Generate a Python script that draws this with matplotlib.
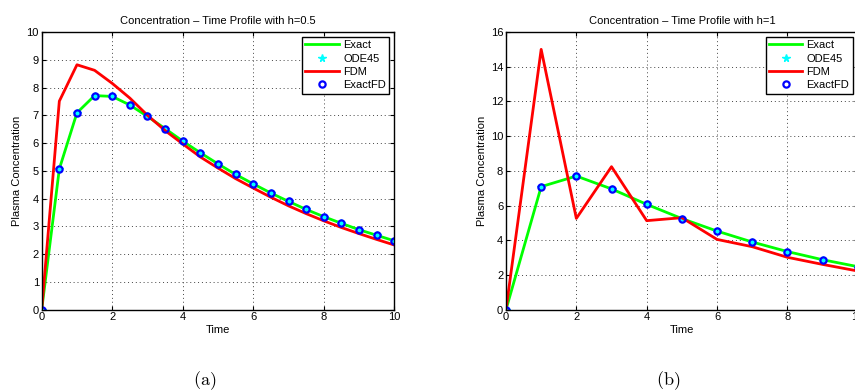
import matplotlib
matplotlib.use("Agg")
import matplotlib.pyplot as plt
import numpy as np

plt.rcParams['font.family'] = ['Liberation Sans', 'DejaVu Sans']
plt.rcParams['mathtext.fontset'] = 'cm'

# h = 0.5
t_a = np.arange(0, 10.01, 0.5)
exact_a = [0, 5.07, 7.09, 7.71, 7.68, 7.37, 6.96, 6.52, 6.07, 5.65, 5.25,
           4.87, 4.53, 4.20, 3.90, 3.61, 3.35, 3.11, 2.88, 2.68, 2.48]
fdm_a = [0, 7.51, 8.82, 8.62, 8.15, 7.62, 7.0, 6.45, 5.97, 5.5, 5.1,
         4.72, 4.38, 4.05, 3.74, 3.46, 3.2, 2.96, 2.74, 2.53, 2.33]

# h = 1
t_b = np.arange(0, 10.01, 1.0)
exact_b = [0, 7.09, 7.70, 6.96, 6.07, 5.25, 4.53, 3.90, 3.35, 2.88, 2.48]
fdm_b = [0, 15.0, 5.26, 8.24, 5.13, 5.30, 4.05, 3.63, 3.02, 2.61, 2.23]

W, H = 855, 392
fig = plt.figure(figsize=(W / 100, H / 100), dpi=100)


def panel(rect, t, exact, fdm, h, ymax, ystep):
    ax = fig.add_axes(rect)
    ax.plot(t, exact, color='#00ff00', lw=2, label='Exact')
    ax.plot(t, exact, ls='none', marker='*', color='cyan', ms=5.5, label='ODE45')
    ax.plot(t, fdm, color='red', lw=2, label='FDM')
    ax.plot(t, exact, ls='none', marker='o', mfc='none', mec='blue', ms=4.5,
            mew=1.6, label='ExactFD')
    ax.set_xlim(0, 10)
    ax.set_ylim(0, ymax)
    ax.set_xticks(np.arange(0, 11, 2))
    ax.set_yticks(np.arange(0, ymax + 0.1, ystep))
    ax.grid(True, ls=(0, (1, 3)), color='#444444', lw=0.7)
    ax.tick_params(direction='in', top=True, right=True, labelsize=8,
                   length=3, pad=2)
    for s in ax.spines.values():
        s.set_linewidth(1.0)
    ax.set_title('Concentration \u2013 Time Profile with h=%s' % h, fontsize=8, pad=6)
    ax.set_xlabel('Time', fontsize=8, labelpad=2)
    ax.set_ylabel('Plasma Concentration', fontsize=8, labelpad=3)
    leg = ax.legend(loc='upper right', bbox_to_anchor=(1 - 5 / (rect[2] * W), 1 - 5 / (rect[3] * H)),
                    borderaxespad=0, fontsize=8, fancybox=False, framealpha=1,
                    handlelength=3.0, handletextpad=0.4, labelspacing=0.3,
                    borderpad=0.3)
    leg.get_frame().set_edgecolor('black')
    leg.get_frame().set_linewidth(1.0)
    return ax


panel([41.7 / W, 1 - 309.7 / H, 352.6 / W, 277.7 / H], t_a, exact_a, fdm_a, '0.5', 10, 1)
panel([506 / W, 1 - 309.7 / H, 351.7 / W, 277.7 / H], t_b, exact_b, fdm_b, '1', 16, 2)

fig.text(205 / W, 1 - 381 / H, r'$\mathrm{(a)}$', fontsize=13, ha='center', va='center')
fig.text(668 / W, 1 - 381 / H, r'$\mathrm{(b)}$', fontsize=13, ha='center', va='center')

fig.savefig('out.png', dpi=100)
